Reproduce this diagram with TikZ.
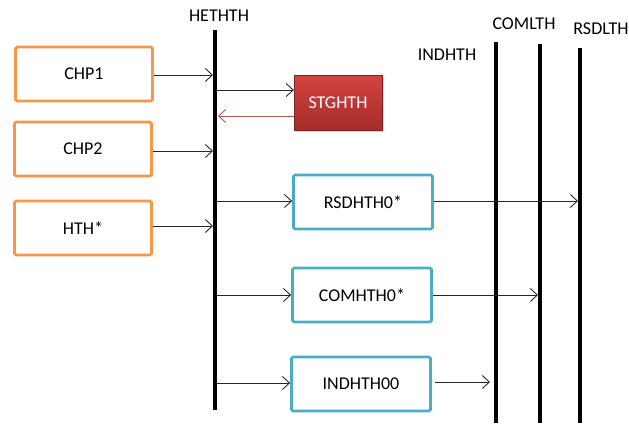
\documentclass[tikz,border=0pt]{standalone}
\usepackage{fontspec}
\setmainfont{Carlito}
\usetikzlibrary{arrows.meta,shadows}
\definecolor{boxorange}{HTML}{F79646}
\definecolor{boxblue}{HTML}{4BACC6}
\definecolor{redtop}{HTML}{D24440}
\definecolor{redbot}{HTML}{A52B2B}
\definecolor{redline}{HTML}{C0504D}
\begin{document}
\begin{tikzpicture}[x=1pt,y=-1pt,
  font=\fontsize{18}{20}\selectfont,
  obox/.style={draw=boxorange,line width=2.8pt,rounded corners=1.5pt,minimum width=137pt,minimum height=54pt,inner sep=0pt},
  bbox/.style={draw=boxblue,line width=2.8pt,rounded corners=1.5pt,minimum width=139pt,minimum height=54pt,inner sep=0pt},
  rbox/.style={top color=redtop,bottom color=redbot,draw=redbot!80!black,line width=0.3pt,minimum width=88pt,minimum height=55pt,inner sep=0pt,text=white,drop shadow={shadow xshift=1.5pt,shadow yshift=-1.5pt,opacity=0.3}},
  bar/.style={line width=3.2pt,black},
  arr/.style={draw=black!85,line width=0.9pt,-{Straight Barb[length=7pt,width=13pt]}},
  rarr/.style={draw=redline,line width=0.9pt,-{Straight Barb[length=7pt,width=13pt]}},
  lbl/.style={inner sep=0pt}]
\useasboundingbox (0,0) rectangle (629,423);
% vertical bars
\coordinate (h1) at (215,30); \coordinate (h2) at (215,410);
\coordinate (i1) at (496,42); \coordinate (i2) at (496,423);
\coordinate (c1) at (540,44); \coordinate (c2) at (540,423);
\coordinate (r1) at (580,48); \coordinate (r2) at (580,423);
\draw[bar] (h1) -- (h2);
\draw[bar] (i1) -- (i2);
\draw[bar] (c1) -- (c2);
\draw[bar] (r1) -- (r2);
\node[lbl] (lh) at (219,16) {HETHTH};
\node[lbl] (li) at (447,55) {INDHTH};
\node[lbl] (lc) at (524,24) {COMLTH};
\node[lbl] (lr) at (601,29) {RSDLTH};
% orange boxes
\node[obox] (chp1) at (84,74) {CHP1};
\node[obox] (chp2) at (83,149) {CHP2};
\node[obox] (hth) at (83,228) {HTH*};
% red box
\node[rbox] (stg) at (338,103) {STGHTH};
% blue boxes
\node[bbox] (rsd) at (363,202) {RSDHTH0*};
\node[bbox] (com) at (362,295) {COMHTH0*};
\node[bbox] (ind) at (361,384) {INDHTH00};
% arrow points on bars
\coordinate (a1) at (213,75);
\coordinate (a2) at (213,151);
\coordinate (a3) at (213,226);
\coordinate (s1) at (217,90);
\coordinate (s2) at (218,116);
\coordinate (b1) at (217,201);
\coordinate (b2) at (217,295);
\coordinate (b3) at (217,383);
\coordinate (e1) at (578,201);
\coordinate (e2) at (538,295);
\coordinate (e3) at (490,382);
\draw[arr] (chp1.east |- a1) -- (a1);
\draw[arr] (chp2.east |- a2) -- (a2);
\draw[arr] (hth.east |- a3) -- (a3);
\draw[arr] (s1) -- (stg.west |- s1);
\draw[rarr] (stg.west |- s2) -- (s2);
\draw[arr] (b1) -- (rsd.west |- b1);
\draw[arr] (b2) -- (com.west |- b2);
\draw[arr] (b3) -- (ind.west |- b3);
\draw[arr] (rsd.east |- e1) -- (e1);
\draw[arr] (com.east |- e2) -- (e2);
\draw[arr] ([xshift=3pt]ind.east |- e3) -- (e3);
\end{tikzpicture}
\end{document}
